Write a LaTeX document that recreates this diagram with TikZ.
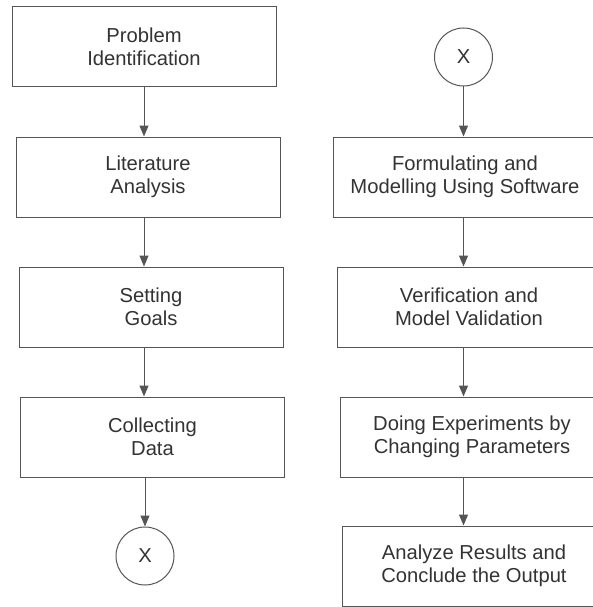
\documentclass[tikz,border=0pt]{standalone}
\usepackage{fontspec}
\setmainfont{Liberation Sans}
\usetikzlibrary{arrows.meta}
\definecolor{edge}{HTML}{555555}
\definecolor{ink}{HTML}{333333}
\begin{document}
\begin{tikzpicture}[x=1pt,y=-1pt,
  stepbox/.style={draw=edge, line width=1pt, rectangle, minimum width=264pt,
    minimum height=80pt, inner sep=0pt, align=center, text=ink,
    font=\fontsize{20.2}{23}\selectfont},
  connector/.style={draw=edge, line width=1pt, circle, minimum size=58pt,
    inner sep=0pt, text=ink, font=\fontsize{20.2}{23}\selectfont},
  flow/.style={draw=edge, line width=1pt, -{Triangle[width=9pt,length=11pt]}}]
\useasboundingbox (0,0) rectangle (593,607);
\fill[white] (0,0) rectangle (593,607);

% left column
\node[stepbox] (b1) at (144,47)  {Problem\\Identification};
\node[stepbox] (b2) at (148,177) {Literature\\Analysis};
\node[stepbox] (b3) at (151,307) {Setting\\Goals};
\node[stepbox] (b4) at (152.5,437) {Collecting\\Data};
\node[connector] (c1) at (145,556) {X};

\draw[flow] (b1.south) -- (b1.south |- b2.north);
\draw[flow] (b2.south -| b1.south) -- (b3.north -| b1.south);
\draw[flow] (b3.south -| b1.south) -- (b4.north -| b1.south);
\draw[flow] (b4.south -| c1.south) -- (c1.north);

% right column (boxes run past the right margin)
\node[connector] (c2) at (463.5,57) {X};
\node[stepbox] (r1) at (465,177) {Formulating and\\Modelling Using Software};
\node[stepbox] (r2) at (469,307) {Verification and\\Model Validation};
\node[stepbox] (r3) at (472,437) {Doing Experiments by\\Changing Parameters};
\node[stepbox] (r4) at (474,566) {Analyze Results and\\Conclude the Output};

\draw[flow] (c2.south) -- (c2.south |- r1.north);
\draw[flow] (r1.south -| c2.south) -- (r2.north -| c2.south);
\draw[flow] (r2.south -| c2.south) -- (r3.north -| c2.south);
\draw[flow] (r3.south -| c2.south) -- (r4.north -| c2.south);
\end{tikzpicture}
\end{document}
